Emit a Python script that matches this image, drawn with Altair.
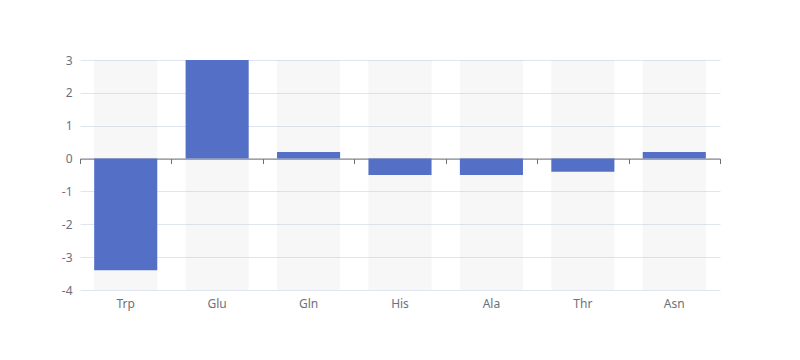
import altair as alt
import pandas as pd

categories = ["Trp", "Glu", "Gln", "His", "Ala", "Thr", "Asn"]
values = [-3.4, 3.0, 0.2, -0.5, -0.5, -0.4, 0.2]

df = pd.DataFrame({"cat": categories, "v": values})

W, H = 640, 230
Y_MIN, Y_MAX = -4, 3
zero_offset = -(H * (0 - Y_MIN) / (Y_MAX - Y_MIN))

FONT = "Noto Sans"
LABEL = "#6E7079"

xscale = alt.Scale(paddingInner=0, paddingOuter=0)

bg = alt.Chart(df).mark_bar(
    width=alt.RelativeBandSize(0.69), color="#b4b4b4", opacity=0.1
).encode(
    x=alt.X("cat:N", sort=categories, scale=xscale, title=None,
            axis=alt.Axis(orient="bottom", offset=zero_offset, labels=False,
                          domain=True, domainColor=LABEL, ticks=True,
                          tickColor=LABEL, tickSize=5, tickBand="extent",
                          grid=False)),
    y=alt.value(0),
    y2=alt.value(H),
)

bars = alt.Chart(df).mark_bar(
    width=alt.RelativeBandSize(0.69), color="#5470c6"
).encode(
    x=alt.X("cat:N", sort=categories, scale=xscale, title=None,
            axis=alt.Axis(orient="bottom", domain=False, ticks=False,
                          labelPadding=8, labelColor=LABEL, labelFontSize=12,
                          labelFont=FONT, grid=False, labelAngle=0)),
    y=alt.Y("v:Q", stack=None, title=None,
            scale=alt.Scale(domain=[Y_MIN, Y_MAX], nice=False, zero=False),
            axis=alt.Axis(values=list(range(Y_MIN, Y_MAX + 1)), domain=False,
                          ticks=False, labelPadding=8, labelColor=LABEL,
                          labelFontSize=12, labelFont=FONT, grid=True,
                          labelExpr="'' + datum.value",
                          gridColor="#E0E6F1", gridWidth=1)),
)

chart = alt.layer(bg, bars).resolve_axis(x="independent").properties(
    width=W, height=H,
    autosize=alt.AutoSizeParams(type="none"),
    padding={"left": 72, "top": 52, "right": 72, "bottom": 62},
).configure_view(stroke=None)

chart.save("out.html", embed_options={"renderer": "svg", "actions": False})
